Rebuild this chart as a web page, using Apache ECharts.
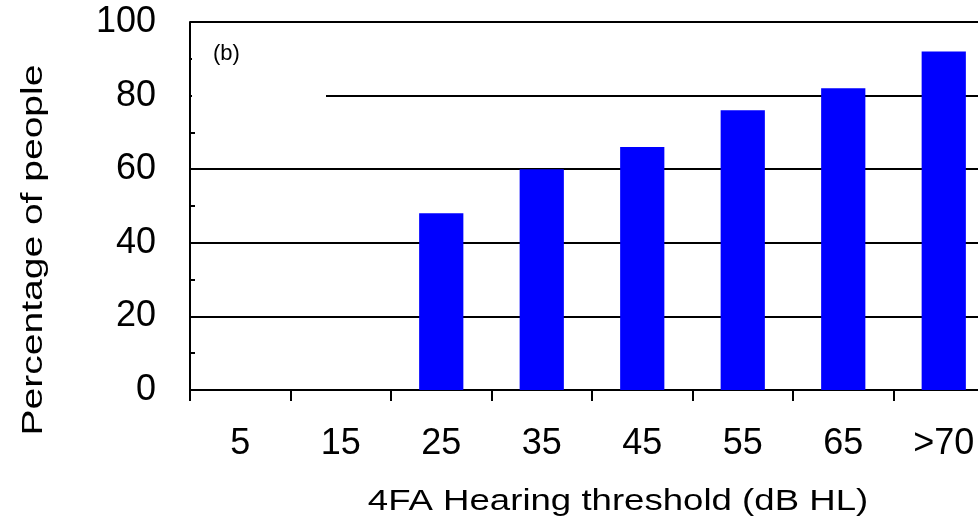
<!DOCTYPE html>
<html>
<head>
<meta charset="utf-8">
<script src="https://cdn.jsdelivr.net/npm/echarts@6/dist/echarts.min.js"></script>
<style>
  html, body { margin: 0; padding: 0; background: #fff; overflow: hidden; }
  /* the plot runs a little past the right edge of the page */
  #chart { width: 994px; height: 527px; }
</style>
</head>
<body>
<div id="chart"></div>
<script>
// Hearing threshold bands (dB HL) and share of people in each band
const categories = ['5', '15', '25', '35', '45', '55', '65', '>70'];
const percentages = [0, 0, 48, 60, 66, 76, 82, 92];
const yTicks = [0, 20, 40, 60, 80, 100];

const FONT = '"Liberation Sans", Arial, sans-serif';

const chart = echarts.init(document.getElementById('chart'), null, { renderer: 'canvas' });

chart.setOption({
  animation: false,
  backgroundColor: '#ffffff',
  grid: { left: 190, top: 22, right: 0, bottom: 137, containLabel: false },
  xAxis: {
    type: 'category',
    data: categories,
    boundaryGap: true,
    axisLine: { show: true, lineStyle: { color: '#000', width: 2 } },
    axisTick: { show: true, inside: false, length: 11, alignWithLabel: false,
                lineStyle: { color: '#000', width: 2 } },
    axisLabel: { color: '#000', fontFamily: FONT, fontSize: 36, margin: 36 },
    splitLine: { show: false }
  },
  yAxis: {
    type: 'value',
    min: yTicks[0],
    max: yTicks[yTicks.length - 1],
    interval: 20,
    axisLine: { show: true, lineStyle: { color: '#000', width: 2 } },
    axisTick: { show: true, inside: true, length: 5, lineStyle: { color: '#000', width: 2 } },
    minorTick: { show: true, splitNumber: 2, length: 5, lineStyle: { color: '#000', width: 2 } },
    axisLabel: { color: '#000', fontFamily: FONT, fontSize: 36, margin: 34 },
    splitLine: { show: true, lineStyle: { color: '#000', width: 2 } }
  },
  graphic: [
    // blank panel behind the panel tag
    { type: 'rect', z: 50, shape: { x: 192, y: 24, width: 134, height: 80 },
      style: { fill: '#ffffff' } },
    { type: 'text', z: 51, x: 213, y: 54,
      style: { text: '(b)', font: '22px ' + FONT, fill: '#000',
               textAlign: 'left', textVerticalAlign: 'middle' } },
    { type: 'text', z: 51, x: 618, y: 502, scaleX: 1.22,
      style: { text: '4FA Hearing threshold (dB HL)', font: '30px ' + FONT, fill: '#000',
               textAlign: 'center', textVerticalAlign: 'middle' } },
    { type: 'text', z: 51, x: 34, y: 250, rotation: Math.PI / 2, scaleX: 1.3,
      style: { text: 'Percentage of people', font: '30px ' + FONT, fill: '#000',
               textAlign: 'center', textVerticalAlign: 'middle' } }
  ],
  series: [{
    type: 'bar',
    data: percentages,
    barWidth: '44%',
    itemStyle: { color: '#0000ff', borderWidth: 0 }
  }]
});
</script>
</body>
</html>
